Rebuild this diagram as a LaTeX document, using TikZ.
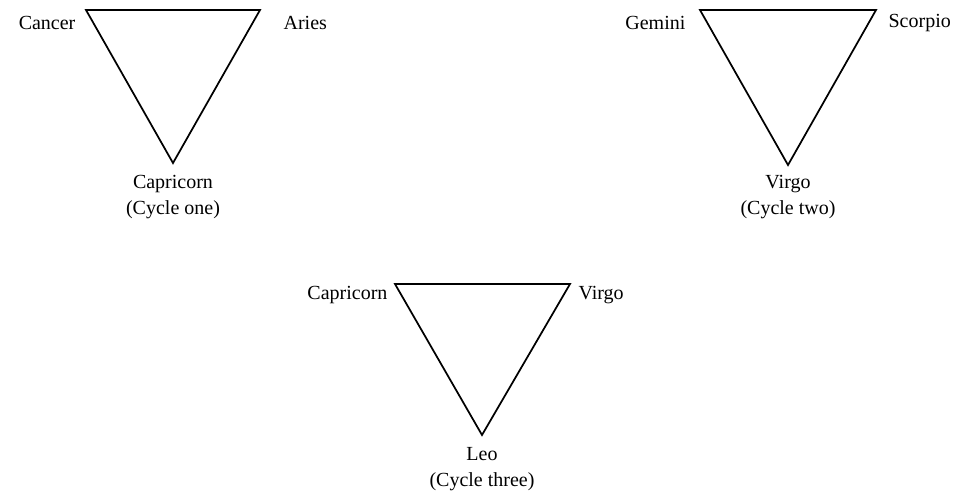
\documentclass[tikz,border=0pt]{standalone}
\usepackage{fontspec}
\setmainfont{Liberation Serif}
\usepackage{tikz}
\usetikzlibrary{positioning,calc}

\begin{document}
\begin{tikzpicture}[x=0.75pt,y=-0.75pt,
  sign/.style={font=\fontsize{15}{19}\selectfont,inner sep=1pt},
  cycle/.style={font=\fontsize{15}{19}\selectfont,align=center,inner sep=1pt,anchor=north},
  edge/.style={line width=1.3pt,line join=miter}]
  \useasboundingbox (0,0) rectangle (963,493);
  % cycle one
  \coordinate (c1l) at (86,10);
  \coordinate (c1r) at (260,10);
  \coordinate (c1b) at (173,163);
  \draw[edge] (c1l) -- (c1r) -- (c1b) -- cycle;
  \node[sign,anchor=east] (cancer) at (77,23) {Cancer};
  \node[sign,anchor=west] (aries) at (282,23) {Aries};
  \node[cycle] (capone) at (173,174) {Capricorn\\(Cycle one)};
  % cycle two
  \coordinate (c2l) at (700,10);
  \coordinate (c2r) at (876,10);
  \coordinate (c2b) at (788,165);
  \draw[edge] (c2l) -- (c2r) -- (c2b) -- cycle;
  \node[sign,anchor=east] (gemini) at (687,23) {Gemini};
  \node[sign,anchor=west] (scorpio) at (887,23) {Scorpio};
  \node[cycle] (virgotwo) at (788,174) {Virgo\\(Cycle two)};
  % cycle three
  \coordinate (c3l) at (395,284);
  \coordinate (c3r) at (570,284);
  \coordinate (c3b) at (482,435);
  \draw[edge] (c3l) -- (c3r) -- (c3b) -- cycle;
  \node[sign,anchor=east] (capthree) at (389,295) {Capricorn};
  \node[sign,anchor=west] (virgothree) at (577,295) {Virgo};
  \node[cycle] (leo) at (482,446) {Leo\\(Cycle three)};
\end{tikzpicture}
\end{document}
